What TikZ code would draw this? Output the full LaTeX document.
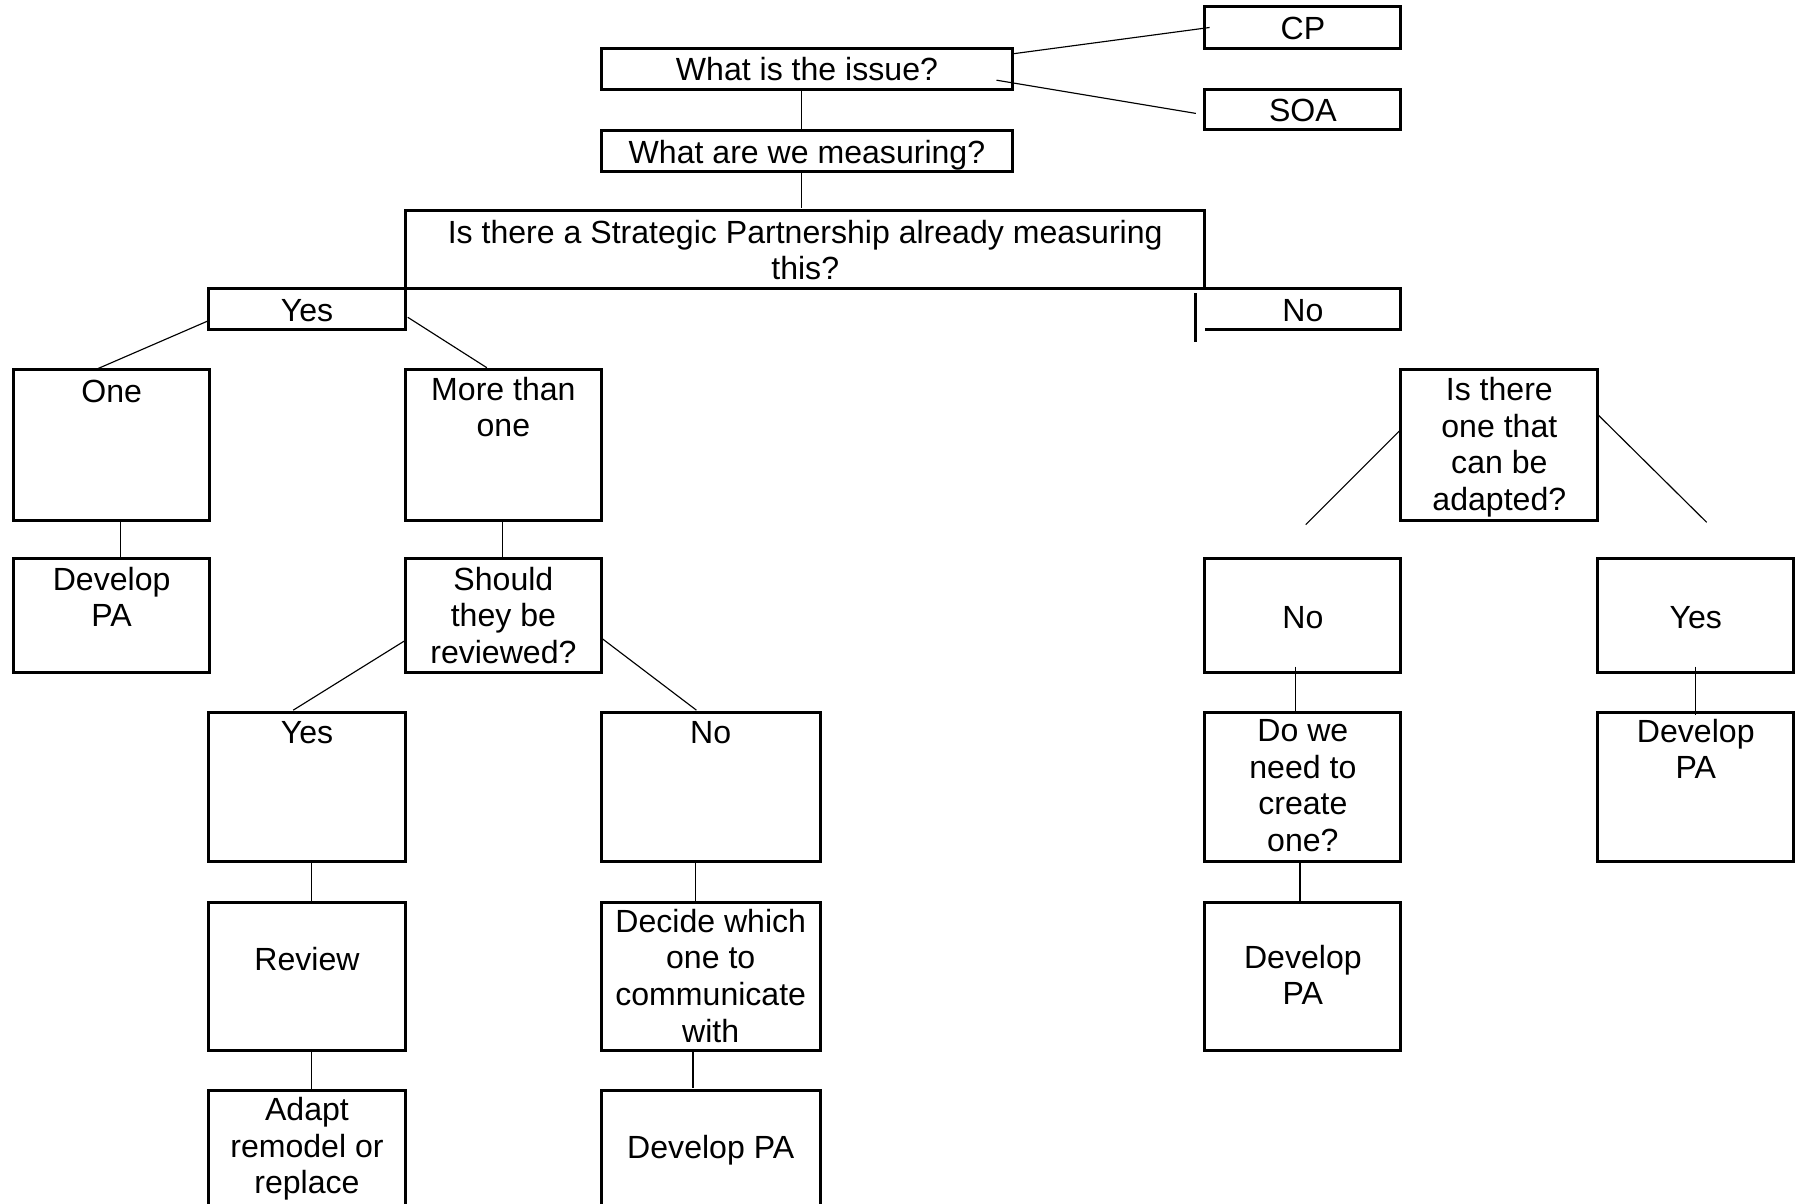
\documentclass[tikz,border=0pt]{standalone}
\usepackage{fontspec}
\setmainfont{Liberation Sans}
\usetikzlibrary{fit,calc}
\begin{document}
\begin{tikzpicture}[x=0.5pt,y=-0.5pt,
  boxline/.style={line width=1.3pt, line join=miter},
  box/.style={boxline, draw=black, rectangle, inner sep=0pt, outer sep=0pt},
  nobox/.style={rectangle, inner sep=0pt, outer sep=0pt},
  lbl/.style={font=\fontsize{14}{16}\selectfont, align=center, inner sep=0pt, anchor=north, execute at begin node=\strut},
  conn/.style={line width=0.5pt}]
\useasboundingbox (0,0) rectangle (1568,1051);
\clip (0,0) rectangle (1568,1051);
\fill[white] (0,0) rectangle (1568,1051);

% boxes
\node[box, fit={(1052,6) (1223,42)}] (cp) {};
\node[box, fit={(1052,78) (1223,113)}] (soa) {};
\node[box, fit={(525,42) (884,78)}] (issue) {};
\node[box, fit={(525,114) (884,150)}] (meas) {};
\node[box, fit={(354,184) (1052,252)}] (strat) {};
\node[box, fit={(182,252) (354,288)}] (yes) {};
\node[nobox, fit={(1052,252) (1223,288)}] (no) {};
\node[box, fit={(12,323) (183,454)}] (one) {};
\node[box, fit={(354,323) (525,454)}] (more) {};
\node[box, fit={(12,488) (183,587)}] (dev1) {};
\node[box, fit={(354,488) (525,587)}] (should) {};
\node[box, fit={(182,622) (354,752)}] (yes2) {};
\node[box, fit={(525,622) (716,752)}] (no2) {};
\node[box, fit={(182,788) (354,917)}] (review) {};
\node[box, fit={(525,788) (716,917)}] (decide) {};
\node[box, fit={(182,952) (354,1082)}] (adapt) {};
\node[box, fit={(525,952) (716,1082)}] (dev2) {};
\node[box, fit={(1223,323) (1395,454)}] (adapted) {};
\node[box, fit={(1052,488) (1223,587)}] (no3) {};
\node[box, fit={(1395,488) (1566,587)}] (yes3) {};
\node[box, fit={(1052,622) (1223,752)}] (dowe) {};
\node[box, fit={(1395,622) (1566,752)}] (dev3) {};
\node[box, fit={(1052,788) (1223,917)}] (dev4) {};

% the open "No" box
\draw[boxline] (no.north west) -- (no.north east) -- (no.south east) -- (no.south west);
\draw[boxline] ($(no.north west)+(-8,4)$) -- ($(no.south west)+(-8,11)$);

% texts
\node[lbl] (t-cp) at ($(cp.north)+(0,5.6)$) {CP};
\node[lbl] (t-soa) at ($(soa.north)+(0,5.6)$) {SOA};
\node[lbl] (t-issue) at ($(issue.north)+(0,5.6)$) {What is the issue?};
\node[lbl] (t-meas) at ($(meas.north)+(0,5.6)$) {What are we measuring?};
\node[lbl] (t-strat) at ($(strat.north)+(0,7.6)$) {Is there a Strategic Partnership already measuring\\this?};
\node[lbl] (t-yes) at ($(yes.north)+(0,5.6)$) {Yes};
\node[lbl] (t-no) at ($(no.north)+(0,5.6)$) {No};
\node[lbl] (t-one) at ($(one.north)+(0,5.6)$) {One};
\node[lbl] (t-more) at ($(more.north)+(0,5.6)$) {More than\\one};
\node[lbl] (t-dev1) at ($(dev1.north)+(0,6.6)$) {Develop\\PA};
\node[lbl] (t-should) at ($(should.north)+(0,6.6)$) {Should\\they be\\reviewed?};
\node[lbl] (t-yes2) at ($(yes2.north)+(0,4.6)$) {Yes};
\node[lbl] (t-no2) at ($(no2.north)+(0,4.6)$) {No};
\node[lbl] (t-review) at ($(review.north)+(0,36.6)$) {Review};
\node[lbl] (t-decide) at ($(decide.north)+(0,5.1)$) {Decide which\\one to\\communicate\\with};
\node[lbl] (t-adapt) at ($(adapt.north)+(0,5.6)$) {Adapt\\remodel or\\replace};
\node[lbl] (t-dev2) at ($(dev2.north)+(0,36.6)$) {Develop PA};
\node[lbl] (t-adapted) at ($(adapted.north)+(0,6.1)$) {Is there\\one that\\can be\\adapted?};
\node[lbl] (t-no3) at ($(no3.north)+(0,37.6)$) {No};
\node[lbl] (t-yes3) at ($(yes3.north)+(0,37.6)$) {Yes};
\node[lbl] (t-dowe) at ($(dowe.north)+(0,5.6)$) {Do we\\need to\\create\\one?};
\node[lbl] (t-dev3) at ($(dev3.north)+(0,5.1)$) {Develop\\PA};
\node[lbl] (t-dev4) at ($(dev4.north)+(0,36.6)$) {Develop\\PA};

% free ends
\coordinate (freeL) at (1140,458);
\coordinate (freeR) at (1490,456);

% connectors
\draw[conn] ($(issue.east)+(0,-13)$) -- ($(cp.west)+(4,0)$);
\draw[conn] ($(issue.east)+(-14,10)$) -- ($(soa.west)+(-8,3.5)$);
\draw[conn] ($(issue.south)+(-4.5,0)$) -- ($(meas.north)+(-4.5,0)$);
\draw[conn] ($(meas.south)+(-4.5,0)$) -- ($(strat.north)+(-3,-2)$);
\draw[conn] ($(yes.west)+(0,10)$) -- ($(one.north)+(-12.5,-1)$);
\draw[conn] ($(yes.east)+(2,7)$) -- ($(more.north)+(-14.5,-2)$);
\draw[conn] ($(one.south)+(7.5,0)$) -- ($(dev1.north)+(7.5,0)$);
\draw[conn] ($(more.south)+(-0.5,0)$) -- ($(should.north)+(-0.5,0)$);
\draw[conn] ($(should.west)+(0,21.5)$) -- ($(yes2.north)+(-12,-2)$);
\draw[conn] ($(should.east)+(0,19.5)$) -- ($(no2.north)+(-12.5,-2)$);
\draw[conn] ($(yes2.south)+(4,0)$) -- ($(review.north)+(4,0)$);
\draw[conn] ($(no2.south)+(-13.5,0)$) -- ($(decide.north)+(-13.5,0)$);
\draw[conn] ($(review.south)+(4,0)$) -- ($(adapt.north)+(4,0)$);
\draw[conn] ($(decide.south)+(-15.5,0)$) -- ($(dev2.north)+(-15.5,-2)$);
\draw[conn] ($(adapted.west)+(0,-13.5)$) -- (freeL);
\draw[conn] ($(adapted.east)+(0,-26.5)$) -- (freeR);
\draw[conn] ($(no3.south)+(-6.5,-5)$) -- ($(dowe.north)+(-6.5,0)$);
\draw[conn] ($(yes3.south)+(-0.5,-5)$) -- ($(dev3.north)+(-0.5,2)$);
\draw[conn] ($(dowe.south)+(-2.5,0)$) -- ($(dev4.north)+(-2.5,0)$);
\end{tikzpicture}
\end{document}
